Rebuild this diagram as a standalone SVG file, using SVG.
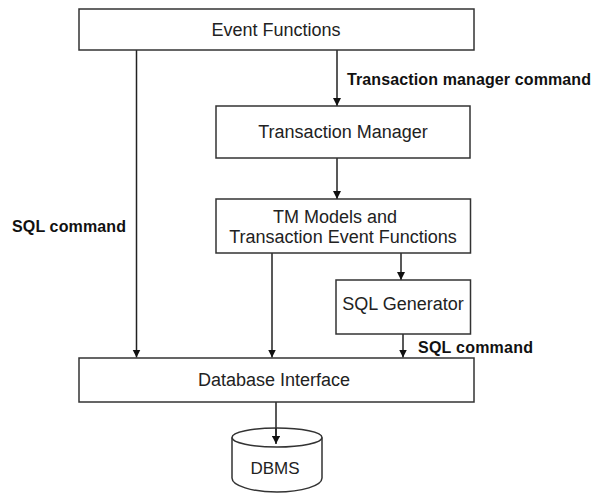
<svg xmlns="http://www.w3.org/2000/svg" width="593" height="493" viewBox="0 0 593 493">
<style>
.box{fill:#fff;stroke:#333;stroke-width:1.5}
.t{font-family:"Liberation Sans",Arial,sans-serif;font-size:18px;fill:#222;text-anchor:middle}
.b{font-family:"Liberation Sans",Arial,sans-serif;font-size:16px;font-weight:bold;fill:#111}
.c{stroke:#222;stroke-width:1.5;fill:none;marker-end:url(#ah)}
</style>
<defs>
<marker id="ah" markerUnits="userSpaceOnUse" markerWidth="8" markerHeight="9" refX="8" refY="4" orient="auto" viewBox="0 0 8 8">
<path d="M0,0 L8,4 L0,8 z" fill="#111"/>
</marker>
</defs>
<rect width="593" height="493" fill="#fff"/>
<g id="connectors">
<line class="c" x1="136.5" y1="50" x2="136.5" y2="357.5"/>
<line class="c" x1="337" y1="50" x2="337" y2="106"/>
<line class="c" x1="337" y1="158" x2="337" y2="199"/>
<line class="c" x1="272" y1="253" x2="272" y2="357.5"/>
<line class="c" x1="401" y1="253" x2="401" y2="280"/>
<line class="c" x1="403" y1="334" x2="403" y2="357.5"/>
<line class="c" x1="276" y1="402" x2="276" y2="444"/>
</g>
<g id="labels">
<text class="b" x="347" y="85" textLength="244" lengthAdjust="spacing">Transaction manager command</text>
<text class="b" x="12" y="232" textLength="114" lengthAdjust="spacing">SQL command</text>
<text class="b" x="418" y="353" textLength="115" lengthAdjust="spacing">SQL command</text>
</g>
<g id="event-functions">
<rect class="box" x="79" y="9" width="395" height="41"/>
<text class="t" x="276" y="36">Event Functions</text>
</g>
<g id="transaction-manager">
<rect class="box" x="216" y="106" width="254" height="52"/>
<text class="t" x="343" y="138">Transaction Manager</text>
</g>
<g id="tm-models">
<rect class="box" x="216" y="199" width="254.5" height="54"/>
<text class="t" x="335" y="223">TM Models and</text>
<text class="t" x="343" y="243">Transaction Event Functions</text>
</g>
<g id="sql-generator">
<rect class="box" x="336" y="280" width="134.5" height="54"/>
<text class="t" x="403" y="310">SQL Generator</text>
</g>
<g id="database-interface">
<rect class="box" x="79" y="358" width="395" height="44"/>
<text class="t" x="274" y="386">Database Interface</text>
</g>
<g id="dbms">
<path class="box" d="M232,437.5 L232,478 A45,14 0 0 0 322,478 L322,437.5"/>
<ellipse class="box" cx="277" cy="437.5" rx="45" ry="9.5" fill="none" style="fill:none"/>
<line class="c" x1="276" y1="428" x2="276" y2="444"/>
<text class="t" x="275" y="474" style="font-size:17px">DBMS</text>
</g>
</svg>
